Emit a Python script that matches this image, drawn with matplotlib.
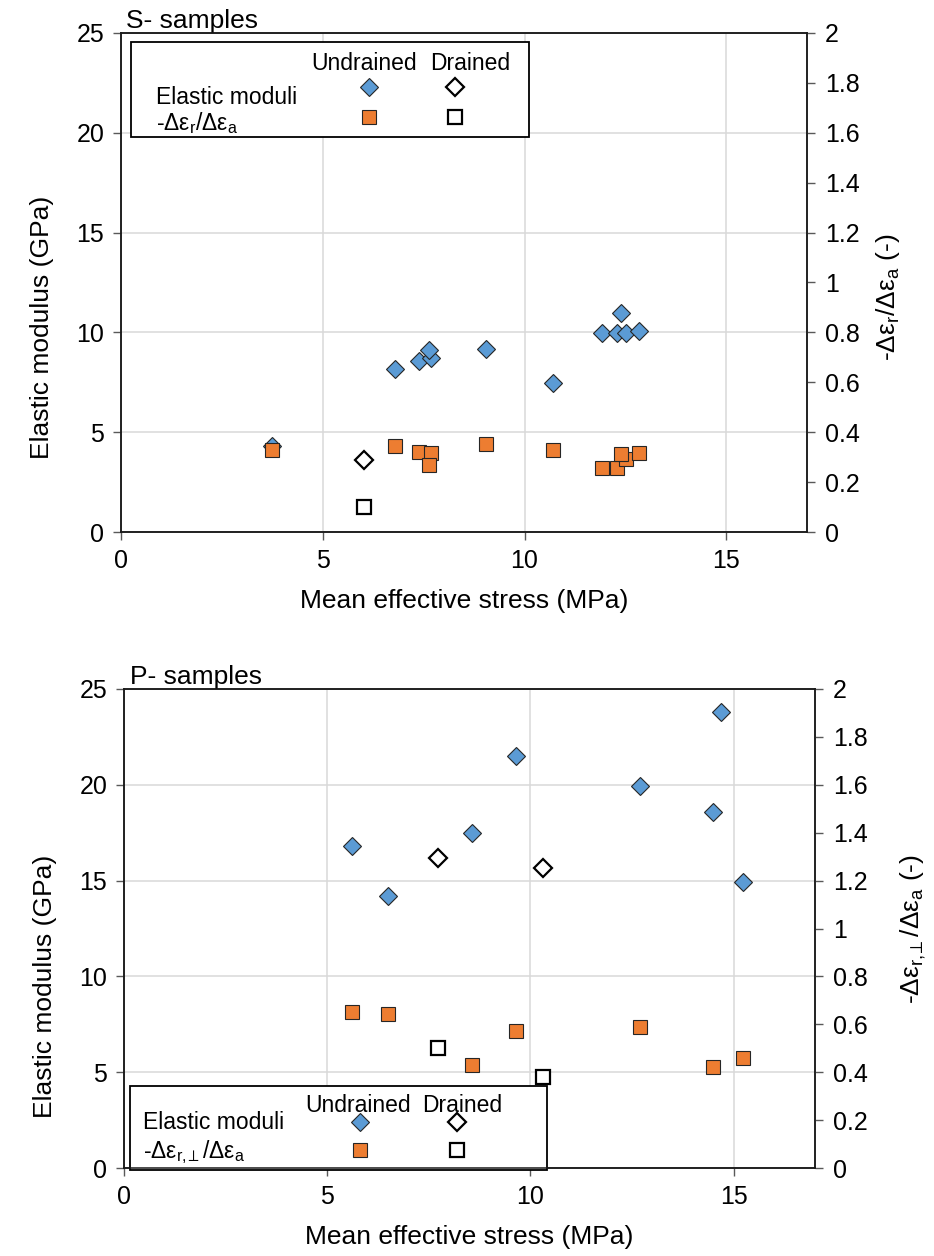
import matplotlib
matplotlib.use('Agg')
import matplotlib.pyplot as plt
from matplotlib.patches import Rectangle
from matplotlib.ticker import FuncFormatter, MultipleLocator

plt.rcParams['font.family'] = ['Liberation Sans', 'DejaVu Sans']

# ---------------- data: S- samples ----------------
s_und_p = [3.73, 6.80, 7.38, 7.67, 7.64, 9.05, 10.71, 11.91, 12.30, 12.51, 12.38, 12.84]
s_und_E = [4.30, 8.17, 8.58, 8.70, 9.10, 9.15, 7.45, 9.98, 9.98, 9.98, 10.98, 10.08]
s_und_R = [0.330, 0.345, 0.319, 0.315, 0.269, 0.351, 0.329, 0.256, 0.256, 0.291, 0.312, 0.316]
s_dr_p = [6.03]
s_dr_E = [3.60]
s_dr_R = [0.101]

# ---------------- data: P- samples ----------------
p_und_p = [5.60, 6.49, 8.55, 9.65, 12.70, 14.49, 14.69, 15.23]
p_und_E = [16.81, 14.18, 17.50, 21.49, 19.95, 18.59, 23.80, 14.91]
p_und_pR = [5.60, 6.49, 8.56, 9.65, 12.70, 14.49, 15.23]
p_und_R = [0.651, 0.642, 0.431, 0.571, 0.590, 0.421, 0.461]
p_dr_p = [7.72, 10.30]
p_dr_E = [16.18, 15.68]
p_dr_R = [0.500, 0.381]

titles = ["S- samples", "P- samples"]
xlabel = "Mean effective stress (MPa)"
ylabel_left = "Elastic modulus (GPa)"
ylabel_right = ["-Δε$\\mathregular{_r}$/Δε$\\mathregular{_a}$ (-)",
                "-Δε$\\mathregular{_{r,\\!\\!\\perp}}$/Δε$\\mathregular{_a}$ (-)"]
legend_ratio = ["-Δε$\\mathregular{_r}$/Δε$\\mathregular{_a}$",
                "-Δε$\\mathregular{_{r,\\!\\!\\perp}}$/Δε$\\mathregular{_a}$"]

BLUE = '#5B9BD5'
ORANGE = '#ED7D31'
EDGE = '#262626'
GRID = '#D9D9D9'
TICK_FS = 18
LAB_FS = 19
LEG_FS = 16.5
D_MS = 9.2
S_MS = 10.0

fig = plt.figure(figsize=(9.34, 12.56), dpi=100)

axes_pos = [[121/934, 1-532/1256, 686/934, 499/1256],
            [124/934, 1-1168/1256, 691/934, 479/1256]]
right_pad = [10, 22]
left_y = [0.41, 0.38]
right_y = [0.47, 0.5]

# legend layout (axes fraction)
leg_cfg = [
    dict(box=(0.0146, 0.792, 0.595-0.0146, 0.982-0.792), hx=(0.354, 0.509), hy=0.938,
         mx=(0.3615, 0.487), my=(0.892, 0.832), tx=0.051, ty=(0.870, 0.820)),
    dict(box=(0.0087, -0.004, 0.612-0.0087, 0.171+0.004), hx=(0.339, 0.489), hy=0.1315,
         mx=(0.3415, 0.482), my=(0.096, 0.0376), tx=0.0275, ty=(0.094, 0.034)),
]

datasets = [
    (s_und_p, s_und_E, s_und_p, s_und_R, s_dr_p, s_dr_E, s_dr_p, s_dr_R),
    (p_und_p, p_und_E, p_und_pR, p_und_R, p_dr_p, p_dr_E, p_dr_p, p_dr_R),
]

for i in range(2):
    up, uE, upR, uR, dp, dE, dpR, dR = datasets[i]
    ax = fig.add_axes(axes_pos[i])
    ax2 = ax.twinx()

    ax.set_xlim(0, 17)
    ax.set_ylim(0, 25)
    ax2.set_ylim(0, 2)
    ax.xaxis.set_major_locator(MultipleLocator(5))
    ax.yaxis.set_major_locator(MultipleLocator(5))
    ax2.yaxis.set_major_locator(MultipleLocator(0.2))
    ax2.yaxis.set_major_formatter(FuncFormatter(lambda v, pos: '%g' % round(v, 1)))

    ax.grid(True, color=GRID, lw=1.1)
    ax.set_axisbelow(True)

    for a in (ax, ax2):
        for sp in a.spines.values():
            sp.set_color('#1a1a1a')
            sp.set_linewidth(1.1)
    ax.tick_params(axis='both', direction='out', length=6, width=1, color='#595959',
                   labelsize=TICK_FS, pad=6)
    ax2.tick_params(axis='y', direction='out', length=6, width=1, color='#595959',
                    labelsize=TICK_FS, pad=7)

    # elastic moduli (left axis)
    ax.plot(up, uE, ls='none', marker='D', ms=D_MS, mfc=BLUE, mec=EDGE, mew=0.8, zorder=3)
    ax.plot(dp, dE, ls='none', marker='D', ms=D_MS, mfc='white', mec='black', mew=1.6, zorder=3)

    # legend box (drawn on secondary axes, below its markers)
    c = leg_cfg[i]
    ax2.add_patch(Rectangle((c['box'][0], c['box'][1]), c['box'][2], c['box'][3],
                            transform=ax2.transAxes, facecolor='white', edgecolor='black',
                            lw=1.3, zorder=1, clip_on=False))
    ax2.text(c['hx'][0], c['hy'], "Undrained", transform=ax2.transAxes, ha='center',
             va='center', fontsize=LEG_FS, zorder=2)
    ax2.text(c['hx'][1], c['hy'], "Drained", transform=ax2.transAxes, ha='center',
             va='center', fontsize=LEG_FS, zorder=2)
    ax2.text(c['tx'], c['ty'][0], "Elastic moduli", transform=ax2.transAxes, ha='left',
             va='center', fontsize=LEG_FS, zorder=2)
    ax2.text(c['tx'], c['ty'][1], legend_ratio[i], transform=ax2.transAxes, ha='left',
             va='center', fontsize=LEG_FS, zorder=2)
    ax2.plot([c['mx'][0]], [c['my'][0]], transform=ax2.transAxes, ls='none', marker='D',
             ms=D_MS, mfc=BLUE, mec=EDGE, mew=0.8, zorder=2, clip_on=False)
    ax2.plot([c['mx'][1]], [c['my'][0]], transform=ax2.transAxes, ls='none', marker='D',
             ms=D_MS, mfc='white', mec='black', mew=1.6, zorder=2, clip_on=False)
    ax2.plot([c['mx'][0]], [c['my'][1]], transform=ax2.transAxes, ls='none', marker='s',
             ms=S_MS, mfc=ORANGE, mec=EDGE, mew=0.8, zorder=2, clip_on=False)
    ax2.plot([c['mx'][1]], [c['my'][1]], transform=ax2.transAxes, ls='none', marker='s',
             ms=S_MS, mfc='white', mec='black', mew=1.6, zorder=2, clip_on=False)

    # strain ratio (right axis)
    ax2.plot(upR, uR, ls='none', marker='s', ms=S_MS, mfc=ORANGE, mec=EDGE, mew=0.8, zorder=3)
    ax2.plot(dpR, dR, ls='none', marker='s', ms=S_MS, mfc='white', mec='black', mew=1.6,
             zorder=3, clip_on=False)

    ax.set_xlabel(xlabel, fontsize=LAB_FS, labelpad=12)
    ax.set_ylabel(ylabel_left, fontsize=LAB_FS, labelpad=16, y=left_y[i])
    ax2.set_ylabel(ylabel_right[i], fontsize=LAB_FS, labelpad=right_pad[i], rotation=90,
                   y=right_y[i])
    ax.text(0.008, 1.0, titles[i], transform=ax.transAxes, ha='left', va='bottom',
            fontsize=LAB_FS)

fig.savefig('out.png', dpi=100)
